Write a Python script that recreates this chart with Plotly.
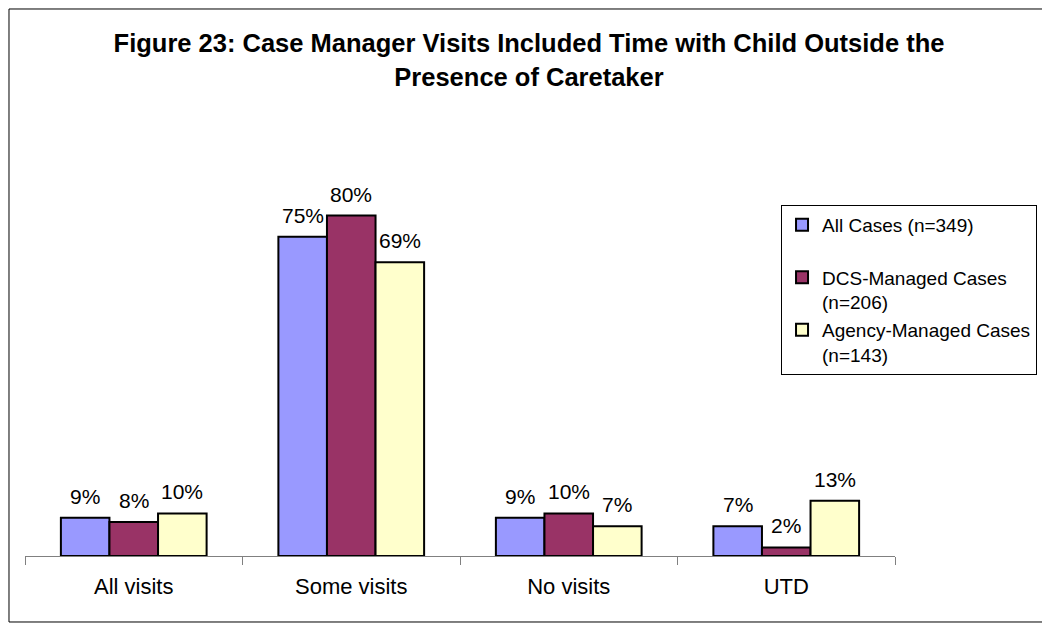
import plotly.graph_objects as go

categories = ["All visits", "Some visits", "No visits", "UTD"]
series_names = ["All Cases (n=349)<br> ", "DCS-Managed Cases<br>(n=206)", "Agency-Managed Cases<br>(n=143)"]
all_cases = [9, 75, 9, 7]
dcs_cases = [8, 80, 10, 2]
agency_cases = [10, 69, 7, 13]
colors = ["#9999FF", "#993366", "#FFFFCC"]

fig = go.Figure()

series = [all_cases, dcs_cases, agency_cases]
for name, vals, col in zip(series_names, series, colors):
    fig.add_trace(go.Bar(
        x=categories,
        y=vals,
        name=name,
        marker=dict(color=col, line=dict(color="black", width=2)),
    ))

# data labels, lifted a bit above the bars like Excel does
for i, vals in enumerate(series):
    for cat, v in zip(categories, vals):
        fig.add_annotation(
            x=cat, y=v, xref="x", yref="y",
            text=f"{v}%", showarrow=False,
            xshift=(i - 1) * 48.5, yshift=8,
            yanchor="bottom",
            font=dict(family="Arial", size=21, color="black"),
        )

# page body has an 8px margin, so the figure is a bit smaller than the window
fig.update_layout(
    width=1042,
    height=616,
    paper_bgcolor="white",
    plot_bgcolor="white",
    font=dict(family="Arial", size=21, color="black"),
    margin=dict(l=17, r=155, t=165, b=68, autoexpand=False),
    barmode="group",
    bargap=0.33,
    bargroupgap=0,
    title=dict(
        text="<b>Figure 23: Case Manager Visits Included Time with Child Outside the<br>Presence of Caretaker</b>",
        x=0.5, xanchor="center", xref="container",
        y=0.928, yanchor="middle", yref="container",
        font=dict(family="Arial", size=25.5, color="black"),
    ),
    legend=dict(
        x=0.869, xanchor="left", y=0.9164, yanchor="top",
        bordercolor="black", borderwidth=1,
        font=dict(family="Arial", size=19),
        valign="top",
        traceorder="normal",
    ),
    showlegend=True,
)

fig.update_xaxes(
    showline=True, linecolor="#808080", linewidth=1,
    ticks="outside", tickson="boundaries", ticklen=8, tickcolor="#808080",
    tickfont=dict(family="Arial", size=22),
    ticklabelstandoff=11,
    showgrid=False,
)
fig.update_yaxes(range=[0, 90], visible=False, showgrid=False)

# outer chart border
fig.add_shape(type="rect", xref="paper", yref="paper",
              x0=-0.0184, x1=1.1759, y0=-0.1723, y1=1.4282,
              line=dict(color="black", width=1))

fig.write_html("out.html")
